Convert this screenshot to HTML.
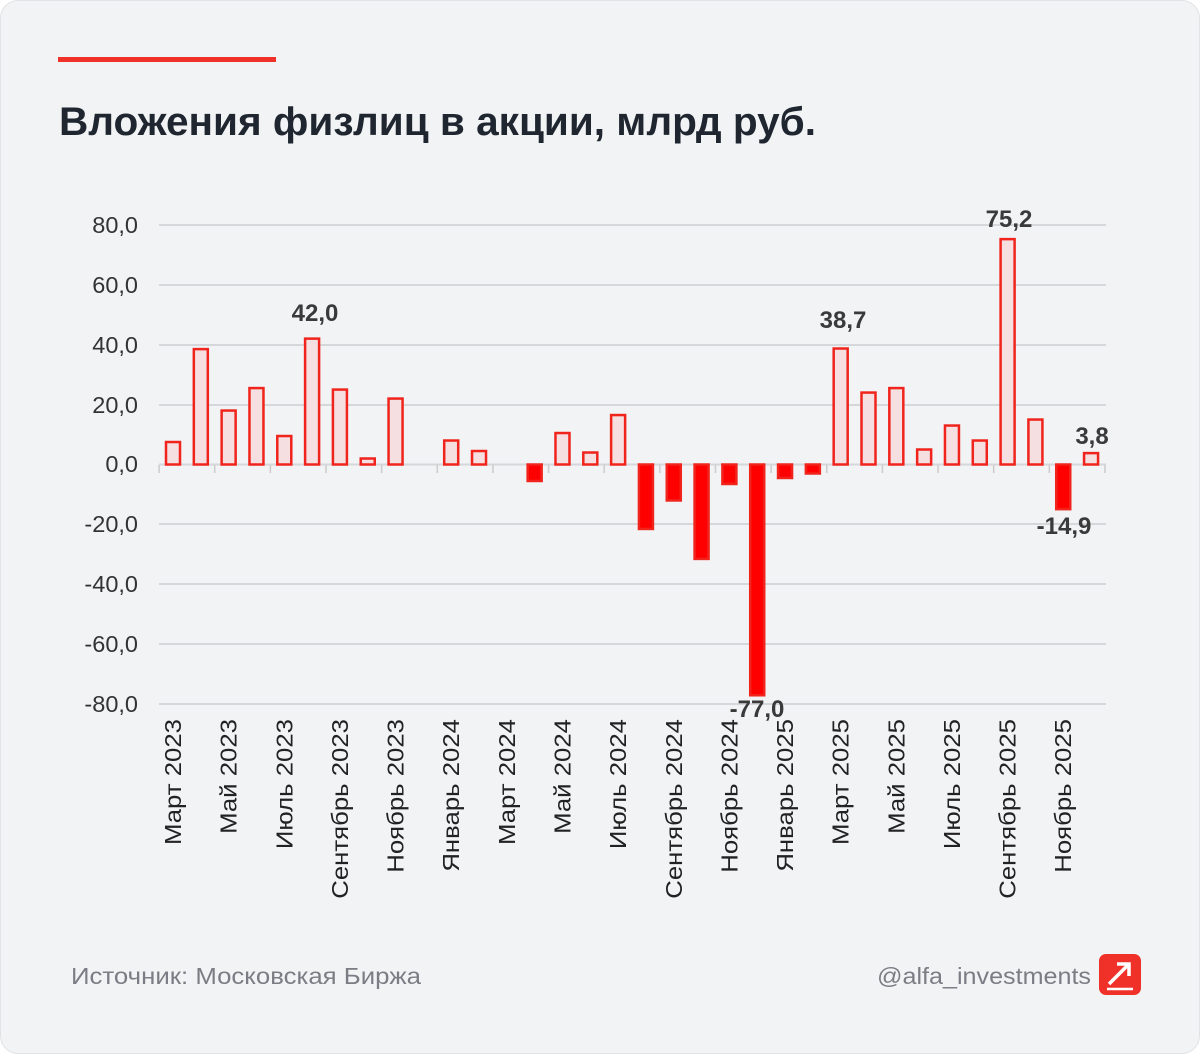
<!DOCTYPE html>
<html><head><meta charset="utf-8"><style>
body{margin:0;background:#fff;}
.card{position:absolute;left:0;top:0;width:1198px;height:1052px;background:#f2f3f5;border-radius:18px;border:1px solid #e2e3e6;font-family:"Liberation Sans",sans-serif;}
</style></head><body>
<div class="card">
<svg width="1200" height="1054" xmlns="http://www.w3.org/2000/svg" style="position:absolute;left:0;top:0">
<rect x="57" y="56" width="218" height="5" fill="#f0312a"/>
<text x="58" y="134" font-family="Liberation Sans" font-weight="bold" font-size="40" textLength="757" lengthAdjust="spacingAndGlyphs" fill="#1f2630">Вложения физлиц в акции, млрд руб.</text>
<g stroke="#d6d7da" stroke-width="2">
<line x1="158" x2="1105" y1="224" y2="224"/><line x1="158" x2="1105" y1="284" y2="284"/>
<line x1="158" x2="1105" y1="344" y2="344"/><line x1="158" x2="1105" y1="404" y2="404"/>
<line x1="158" x2="1105" y1="463.5" y2="463.5"/><line x1="158" x2="1105" y1="523" y2="523"/>
<line x1="158" x2="1105" y1="583" y2="583"/><line x1="158" x2="1105" y1="643" y2="643"/>
<line x1="158" x2="1105" y1="703" y2="703"/>
</g>
<g font-family="Liberation Sans" font-size="23.5" fill="#333" text-anchor="end">
<text x="137" y="232">80,0</text><text x="137" y="292">60,0</text><text x="137" y="352">40,0</text>
<text x="137" y="412">20,0</text><text x="137" y="471">0,0</text><text x="137" y="531">-20,0</text>
<text x="137" y="591">-40,0</text><text x="137" y="651">-60,0</text><text x="137" y="711">-80,0</text>
</g>
<g id="bars"></g>
<g id="ticks" stroke="#ccc" stroke-width="1.5"></g>
<g id="labels" font-family="Liberation Sans" font-size="23" fill="#222"></g>
<g font-family="Liberation Sans" font-weight="bold" font-size="24" fill="#3a3a3a" text-anchor="middle">
<text x="314" y="320">42,0</text><text x="842" y="327">38,7</text><text x="1008" y="226">75,2</text>
<text x="1091" y="443">3,8</text><text x="1063" y="533">-14,9</text><text x="756" y="716">-77,0</text>
</g>
<text x="70" y="983" font-family="Liberation Sans" font-size="23" textLength="350" lengthAdjust="spacingAndGlyphs" fill="#7a7d84">Источник: Московская Биржа</text>
<text x="1090" y="983" text-anchor="end" font-family="Liberation Sans" font-size="23" textLength="214" lengthAdjust="spacingAndGlyphs" fill="#7a7d84">@alfa_investments</text>
<rect x="1098" y="953" width="42" height="41" rx="7" fill="#f0312a"/>
<path d="M1108 983 L1128 963 M1116 963 H1128 V975" stroke="#fff" stroke-width="3.5" fill="none"/>
<line x1="1106" y1="988" x2="1132" y2="988" stroke="#fff" stroke-width="2.5"/>
</svg>
</div>
<script>
const v=[7.5,38.5,18,25.5,9.5,42,25,2,22,0,8,4.5,0,-5.5,10.5,4,16.5,-21.5,-12,-31.5,-6.5,-77,-4.5,-3,38.7,24,25.5,5,13,8,75.2,15,-14.9,3.8];
const months=["Март 2023","Май 2023","Июль 2023","Сентябрь 2023","Ноябрь 2023","Январь 2024","Март 2024","Май 2024","Июль 2024","Сентябрь 2024","Ноябрь 2024","Январь 2025","Март 2025","Май 2025","Июль 2025","Сентябрь 2025","Ноябрь 2025"];
const ns="http://www.w3.org/2000/svg";
const z=463.5,s=2.997,step=27.82,x0=172;
const B=document.getElementById("bars"),T=document.getElementById("ticks"),L=document.getElementById("labels");
v.forEach((d,i)=>{if(d===0)return;const cx=x0+i*step;const r=document.createElementNS(ns,"rect");
const h=Math.abs(d)*s;r.setAttribute("x",cx-7);r.setAttribute("width",14);
r.setAttribute("y",d>0?z-h:z);r.setAttribute("height",h);
r.setAttribute("fill",d>0?"#f5dfe0":"#ff0000");r.setAttribute("stroke","#f0241c");r.setAttribute("stroke-width","2.5");B.appendChild(r);});
for(let k=0;k<=17;k++){const x=x0-step/2+k*2*step;const l=document.createElementNS(ns,"line");
l.setAttribute("x1",x);l.setAttribute("x2",x);l.setAttribute("y1",464);l.setAttribute("y2",472);T.appendChild(l);}
months.forEach((m,k)=>{const x=x0+k*2*step+8;const t=document.createElementNS(ns,"text");
t.setAttribute("transform",`translate(${x},718) rotate(-90) scale(1.12,1)`);t.setAttribute("text-anchor","end");t.textContent=m;L.appendChild(t);});
</script>
</body></html>
